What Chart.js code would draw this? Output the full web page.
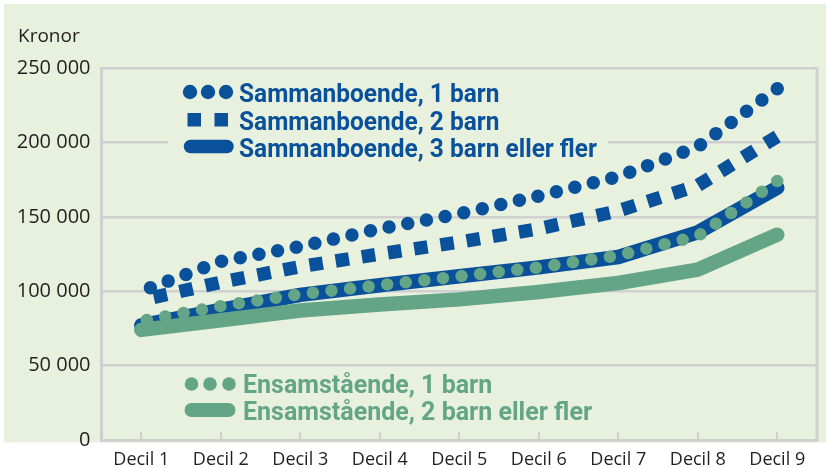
<!DOCTYPE html>
<html>
<head>
<meta charset="utf-8">
<script src="https://cdn.jsdelivr.net/npm/chart.js@4.4.1/dist/chart.umd.min.js"></script>
<style>
  html, body { margin: 0; padding: 0; background: #ffffff; }
  #wrap { width: 826px; height: 468px; }
</style>
</head>
<body>
<div id="wrap"><canvas id="c" width="826" height="468"></canvas></div>
<script>
// ---- data ----
const categories = ["Decil 1","Decil 2","Decil 3","Decil 4","Decil 5","Decil 6","Decil 7","Decil 8","Decil 9"];
const seriesLabels = [
  "Sammanboende, 1 barn",
  "Sammanboende, 2 barn",
  "Sammanboende, 3 barn eller fler",
  "Ensamstående, 1 barn",
  "Ensamstående, 2 barn eller fler"
];
const sammanboende1 = [100000, 120000, 130000, 142000, 152000, 164000, 177000, 197000, 236000];
const sammanboende2 = [94000, 106000, 116500, 125000, 133000, 142000, 154000, 171000, 204000];
const sammanboende3 = [77000, 87500, 97500, 104000, 110000, 116000, 123000, 139500, 169500];
const ensam1 = [80000, 90000, 98000, 104000, 110000, 116000, 124000, 137000, 174000];
const ensam2 = [74000, 80500, 87000, 91000, 94500, 99500, 105500, 114500, 138000];
const yTicks = [0, 50000, 100000, 150000, 200000, 250000];
const yAxisTitle = "Kronor";

// ---- styles ----
const BLUE = "#0a519b";
const GREEN = "#64a587";
const BG = "#e8f1dd";
const GRID = "#d0d0d0";
const TEXT = "#231f20";

function fmt(v) {
  return String(v).replace(/\B(?=(\d{3})+(?!\d))/g, " ");
}

// align dash patterns so that a mark ends exactly at the last point
const dashAlignPlugin = {
  id: "dashAlign",
  beforeDatasetsDraw(chart) {
    chart.data.datasets.forEach((d, i) => {
      if (!d.borderDash || !d.borderDash.length) return;
      const meta = chart.getDatasetMeta(i);
      const pts = meta.data;
      let L = 0;
      for (let k = 1; k < pts.length; k++) {
        L += Math.hypot(pts[k].x - pts[k - 1].x, pts[k].y - pts[k - 1].y);
      }
      const on = d.borderDash[0], off = d.borderDash[1];
      const P = on + off;
      // want a dash to end exactly at L:  k*P - offset + on = L
      let off0 = ((on - L) % P + P) % P;
      meta.dataset.options.borderDashOffset = off0;
    });
  }
};

const panelPlugin = {
  id: "panel",
  beforeDraw(chart) {
    const ctx = chart.ctx;
    ctx.save();
    ctx.fillStyle = "#ffffff";
    ctx.fillRect(0, 0, chart.width, chart.height);
    ctx.fillStyle = BG;
    ctx.fillRect(4, 4, 822, 438.5);
    ctx.restore();
  },
  afterDraw(chart) {
    const ctx = chart.ctx;
    const a = chart.chartArea;
    const xs = chart.scales.x;
    ctx.save();
    // right frame
    ctx.strokeStyle = GRID;
    ctx.lineWidth = 3;
    ctx.beginPath();
    ctx.moveTo(a.right, a.top - 1);
    ctx.lineTo(a.right, a.bottom + 1.5);
    ctx.stroke();
    // inner tick marks
    ctx.lineWidth = 2;
    xs.ticks.forEach((t, i) => {
      const x = Math.round(xs.getPixelForTick(i));
      ctx.beginPath();
      ctx.moveTo(x, a.bottom - 8);
      ctx.lineTo(x, a.bottom);
      ctx.stroke();
    });
    // axis title
    ctx.fillStyle = TEXT;
    ctx.font = "19px 'Open Sans'";
    ctx.textBaseline = "alphabetic";
    ctx.textAlign = "left";
    ctx.fillText(yAxisTitle, 18, 42);

    // legends
    const ds = chart.data.datasets;
    const size = 25;
    function fitText(lines, maxW) {
      ctx.font = "bold " + size + "px Roboto";
      let w = 0;
      lines.forEach(l => { w = Math.max(w, ctx.measureText(l).width); });
      return Math.min(1, maxW / w);
    }
    function drawText(txt, x, y, color, sx) {
      ctx.save();
      ctx.font = "bold " + size + "px Roboto";
      ctx.fillStyle = color;
      ctx.textAlign = "left";
      ctx.textBaseline = "alphabetic";
      ctx.translate(x, y);
      ctx.scale(sx, 1);
      ctx.fillText(txt, 0, 0);
      ctx.restore();
    }
    function dots(cx, cy, r, color) {
      ctx.fillStyle = color;
      cx.forEach(x => { ctx.beginPath(); ctx.arc(x, cy, r, 0, Math.PI * 2); ctx.fill(); });
    }
    function bar(x1, x2, cy, w, color) {
      ctx.strokeStyle = color;
      ctx.lineWidth = w;
      ctx.lineCap = "round";
      ctx.beginPath();
      ctx.moveTo(x1, cy); ctx.lineTo(x2, cy); ctx.stroke();
    }
    // top legend box
    ctx.fillStyle = BG;
    ctx.fillRect(168, 78, 440, 82);
    const sTop = fitText([ds[0].label, ds[1].label, ds[2].label], 358);
    dots([190, 208, 226], 92, 7.2, ds[0].borderColor);
    ctx.fillStyle = ds[1].borderColor;
    ctx.fillRect(187.5, 113, 13.5, 13.5);
    ctx.fillRect(214.5, 113, 13.5, 13.5);
    bar(190.5, 227, 146.5, 13.5, ds[2].borderColor);
    drawText(ds[0].label, 239, 102, ds[0].borderColor, sTop);
    drawText(ds[1].label, 239, 130, ds[1].borderColor, sTop);
    drawText(ds[2].label, 239, 157, ds[2].borderColor, sTop);
    // bottom legend
    const sBot = fitText([ds[3].label, ds[4].label], 352);
    dots([191.5, 210, 229], 384, 6.8, ds[3].borderColor);
    bar(191.5, 228.5, 410, 14, ds[4].borderColor);
    drawText(ds[3].label, 243, 393, ds[3].borderColor, sBot);
    drawText(ds[4].label, 243, 420, ds[4].borderColor, sBot);
    ctx.restore();
  }
};

const chart = new Chart(document.getElementById("c"), {
  type: "line",
  data: {
    labels: categories,
    datasets: [
      { label: seriesLabels[0], data: sammanboende1, borderColor: BLUE, borderWidth: 13.5,
        borderDash: [0, 19], borderCapStyle: "round", order: 1 },
      { label: seriesLabels[1], data: sammanboende2, borderColor: BLUE, borderWidth: 13.5,
        borderDash: [13.5, 13], borderCapStyle: "butt", borderJoinStyle: "miter", order: 2 },
      { label: seriesLabels[2], data: sammanboende3, borderColor: BLUE, borderWidth: 14.5,
        borderCapStyle: "round", borderJoinStyle: "round", order: 5 },
      { label: seriesLabels[3], data: ensam1, borderColor: GREEN, borderWidth: 12.5,
        borderDash: [0, 18.7], borderCapStyle: "round", order: 3 },
      { label: seriesLabels[4], data: ensam2, borderColor: GREEN, borderWidth: 14.5,
        borderCapStyle: "round", borderJoinStyle: "round", order: 4 }
    ].map(d => Object.assign({ pointRadius: 0, pointHoverRadius: 0, tension: 0, fill: false }, d))
  },
  options: {
    responsive: false,
    animation: false,
    events: [],
    layout: { padding: { left: 0, top: 68, right: 9, bottom: 0 } },
    plugins: { legend: { display: false }, tooltip: { enabled: false } },
    scales: {
      x: {
        type: "category",
        offset: true,
        grid: { display: false },
        border: { display: true, color: GRID, width: 3 },
        ticks: { color: TEXT, font: { family: "'Open Sans'", size: 18 }, padding: 1, maxRotation: 0, autoSkip: false },
        afterFit(s) { s.height = 28; }
      },
      y: {
        min: 0, max: 250000,
        afterBuildTicks(s) { s.ticks = yTicks.map(v => ({ value: v })); },
        grid: { color: GRID, lineWidth: 2.5, drawTicks: false },
        border: { display: true, color: GRID, width: 3 },
        ticks: { color: TEXT, font: { family: "'Open Sans'", size: 20 }, padding: 11,
                 callback: v => fmt(v) },
        afterFit(s) { s.width = 101.5; }
      }
    }
  },
  plugins: [dashAlignPlugin, panelPlugin]
});
</script>
</body>
</html>
